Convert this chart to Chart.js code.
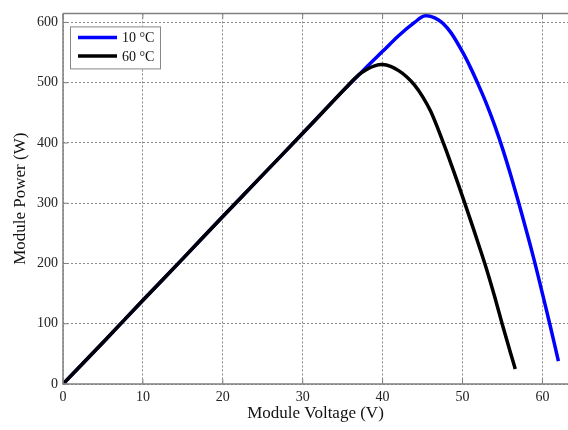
<!DOCTYPE html>
<html>
<head>
<meta charset="utf-8">
<script src="https://cdn.jsdelivr.net/npm/chart.js@4.4.1/dist/chart.umd.min.js"></script>
<style>
  body { margin: 0; background: #fff; }
  #wrap { width: 568px; height: 430px; }
</style>
</head>
<body>
<div id="wrap"><canvas id="pv" width="568" height="430"></canvas></div>
<script>
// series
var voltage10 = [0, 5, 10, 15, 20, 25, 30, 35, 38, 40, 42, 44, 45.3, 47, 48.5, 50, 51, 52, 53, 54, 55, 56, 57, 58, 59, 60, 61, 62];
var power10   = [0, 69, 139, 208, 278, 347, 416, 486, 526, 552, 578, 600, 611, 604, 584, 551, 525, 496, 465, 430, 391, 348, 302, 254, 204, 150, 95, 38];
var voltage60 = [0, 5, 10, 15, 20, 25, 30, 34, 36, 37, 38, 39, 40, 41, 42, 43, 44, 45, 46, 47, 48, 49, 50, 51, 52, 53, 54, 55, 56, 56.6];
var power60   = [0, 69, 139, 208, 278, 347, 416, 472, 500, 513, 522, 528, 530, 527, 520, 510, 496, 477, 453, 421, 386, 349, 311, 272, 232, 191, 146, 98, 52, 25];
var xTicks = [0, 10, 20, 30, 40, 50, 60];
var yTicks = [0, 100, 200, 300, 400, 500, 600];
var seriesLabels = ["10 \u00b0C", "60 \u00b0C"];

function pairs(xs, ys) {
  return xs.map(function (v, i) { return { x: v, y: ys[i] }; });
}

var serif = "'Liberation Serif', 'DejaVu Serif', serif";
var frameColor = "#808080";

// top border, inward tick marks and the legend box inside the plot
var framePlugin = {
  id: "frame",
  afterDraw: function (chart) {
    var ctx = chart.ctx, a = chart.chartArea;
    var xs = chart.scales.x, ys = chart.scales.y;
    ctx.save();
    ctx.strokeStyle = frameColor;
    ctx.lineWidth = 1.5;
    ctx.beginPath();
    ctx.moveTo(a.left, a.top); ctx.lineTo(a.right, a.top);
    ctx.moveTo(a.left, a.top); ctx.lineTo(a.left, a.bottom);
    ctx.lineTo(a.right, a.bottom);
    ctx.stroke();

    ctx.lineWidth = 1;
    ctx.beginPath();
    xs.ticks.forEach(function (t) {
      var px = xs.getPixelForValue(t.value);
      ctx.moveTo(px, a.bottom); ctx.lineTo(px, a.bottom - 5);
      ctx.moveTo(px, a.top); ctx.lineTo(px, a.top + 5);
    });
    ys.ticks.forEach(function (t) {
      var py = ys.getPixelForValue(t.value);
      ctx.moveTo(a.left, py); ctx.lineTo(a.left + 5, py);
    });
    ctx.stroke();

    // legend
    var bx = a.left + 7, by = a.top + 13, bw = 90, bh = 42;
    ctx.fillStyle = "#fff";
    ctx.fillRect(bx, by, bw, bh);
    ctx.strokeStyle = "#888";
    ctx.lineWidth = 1;
    ctx.strokeRect(bx + 0.5, by + 0.5, bw, bh);
    ctx.font = "14px " + serif;
    ctx.textBaseline = "middle";
    chart.data.datasets.forEach(function (ds, i) {
      var ly = by + 11 + i * 18.5;
      ctx.strokeStyle = ds.borderColor;
      ctx.lineWidth = 3.5;
      ctx.beginPath();
      ctx.moveTo(bx + 8, ly); ctx.lineTo(bx + 47, ly);
      ctx.stroke();
      ctx.fillStyle = "#111";
      ctx.fillText(ds.label, bx + 52, ly + 1);
    });
    ctx.restore();
  }
};

var ctx = document.getElementById("pv");
var myChart = new Chart(ctx, {
  type: "line",
  data: {
    datasets: [{
      label: seriesLabels[0],
      data: pairs(voltage10, power10),
      borderColor: "#0000ff",
      borderWidth: 3.5,
      pointRadius: 0,
      tension: 0.3,
      order: 1
    }, {
      label: seriesLabels[1],
      data: pairs(voltage60, power60),
      borderColor: "#000000",
      borderWidth: 3.5,
      pointRadius: 0,
      tension: 0.3,
      order: 0
    }]
  },
  options: {
    responsive: false,
    animation: false,
    layout: { padding: { top: 11, left: 0, right: 0, bottom: 0 } },
    plugins: {
      legend: { display: false },
      tooltip: { enabled: false }
    },
    scales: {
      x: {
        type: "linear",
        min: 0,
        max: 63.2,
        afterBuildTicks: function (s) { s.ticks = xTicks.map(function (v) { return { value: v }; }); },
        afterFit: function (s) { s.height = 46; },
        grid: { color: "#8a8a8a", lineWidth: 1, drawTicks: false },
        border: { display: false, dash: [2, 2] },
        ticks: { color: "#222", padding: 5, font: { family: serif, size: 14 } },
        title: { display: true, text: "Module Voltage (V)", color: "#111", padding: { top: 0, bottom: 6 }, font: { family: serif, size: 17 } }
      },
      y: {
        min: 0,
        max: 615,
        afterBuildTicks: function (s) { s.ticks = yTicks.map(function (v) { return { value: v }; }); },
        afterFit: function (s) { s.width = 63; },
        grid: { color: "#8a8a8a", lineWidth: 1, drawTicks: false },
        border: { display: false, dash: [2, 2] },
        ticks: { color: "#222", padding: 5, font: { family: serif, size: 14 } },
        title: { display: true, text: "Module Power (W)", color: "#111", padding: { top: 10, bottom: 0 }, font: { family: serif, size: 17 } }
      }
    }
  },
  plugins: [framePlugin]
});
</script>
</body>
</html>
